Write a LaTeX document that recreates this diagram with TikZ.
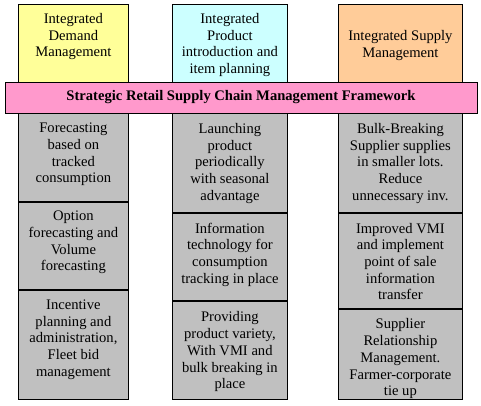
\documentclass[tikz,border=0pt]{standalone}
\usepackage{fontspec}
\setmainfont{Liberation Serif}
\usetikzlibrary{positioning}
\definecolor{headyellow}{HTML}{FFFF99}
\definecolor{headcyan}{HTML}{CCFFFF}
\definecolor{headorange}{HTML}{FFCC99}
\definecolor{bandpink}{HTML}{FF99CC}
\definecolor{cellgray}{HTML}{C0C0C0}

\tikzset{
  colbox/.style={draw, line width=0.8pt, inner sep=0pt},
  cellbox/.style={colbox, fill=cellgray},
  celltext/.style={align=center, inner sep=0pt, anchor=north,
                   font=\fontsize{14.6}{16.7}\selectfont},
}

\begin{document}
\begin{tikzpicture}[x=1pt, y=-1pt]
    \useasboundingbox (0,0) rectangle (481,406);
    % column heads
    \node[colbox, fill=headyellow, anchor=north west, minimum width=110pt, minimum height=78pt] (demand) at (18,4) {};
    \node[colbox, fill=headcyan, anchor=north west, minimum width=115pt, minimum height=78pt] (product) at (172,4) {};
    \node[colbox, fill=headorange, anchor=north west, minimum width=124pt, minimum height=78pt] (supply) at (338,4) {};
    \node[celltext, below=9pt of demand.north] {Integrated\\Demand\\Management};
    \node[celltext, below=9pt of product.north] {Integrated\\Product\\introduction and\\item planning};
    \node[celltext, below=26pt of supply.north] {Integrated Supply\\Management};

    % demand column
    \node[cellbox, anchor=north west, minimum width=110pt, minimum height=88pt] (dem1) at (18,113) {};
    \node[cellbox, below=0pt of dem1, minimum width=110pt, minimum height=87pt] (dem2) {};
    \node[cellbox, below=0pt of dem2, minimum width=110pt, minimum height=109pt] (dem3) {};
    \node[celltext, below=10pt of dem1.north] {Forecasting\\based on\\tracked\\consumption};
    \node[celltext, below=9pt of dem2.north] {Option\\forecasting and\\Volume\\forecasting};
    \node[celltext, below=10pt of dem3.north] {Incentive\\planning and\\administration,\\Fleet bid\\management};

    % product column
    \node[cellbox, anchor=north west, minimum width=115pt, minimum height=99pt] (prod1) at (172,113) {};
    \node[cellbox, below=0pt of prod1, minimum width=115pt, minimum height=87pt] (prod2) {};
    \node[cellbox, below=0pt of prod2, minimum width=115pt, minimum height=98pt] (prod3) {};
    \node[celltext, below=10pt of prod1.north] {Launching\\product\\periodically\\with seasonal\\advantage};
    \node[celltext, below=10pt of prod2.north] {Information\\technology for\\consumption\\tracking in place};
    \node[celltext, below=11pt of prod3.north] {Providing\\product variety,\\With VMI and\\bulk breaking in\\place};

    % supply column
    \node[cellbox, anchor=north west, minimum width=124pt, minimum height=99pt] (sup1) at (338,113) {};
    \node[cellbox, below=0pt of sup1, minimum width=124pt, minimum height=95pt] (sup2) {};
    \node[cellbox, below=0pt of sup2, minimum width=124pt, minimum height=90pt] (sup3) {};
    \node[celltext, below=10pt of sup1.north] {Bulk-Breaking\\Supplier supplies\\in smaller lots.\\Reduce\\unnecessary inv.};
    \node[celltext, below=10pt of sup2.north] {Improved VMI\\and implement\\point of sale\\information\\transfer};
    \node[celltext, below=10pt of sup3.north] {Supplier\\Relationship\\Management.\\Farmer-corporate\\tie up};

    % framework band across the columns
    \node[colbox, fill=bandpink, minimum width=472pt, minimum height=31pt,
          font=\fontsize{14.6}{16.7}\selectfont\bfseries] (frame) at (241,97.5)
          {Strategic Retail Supply Chain Management Framework};
\end{tikzpicture}
\end{document}
